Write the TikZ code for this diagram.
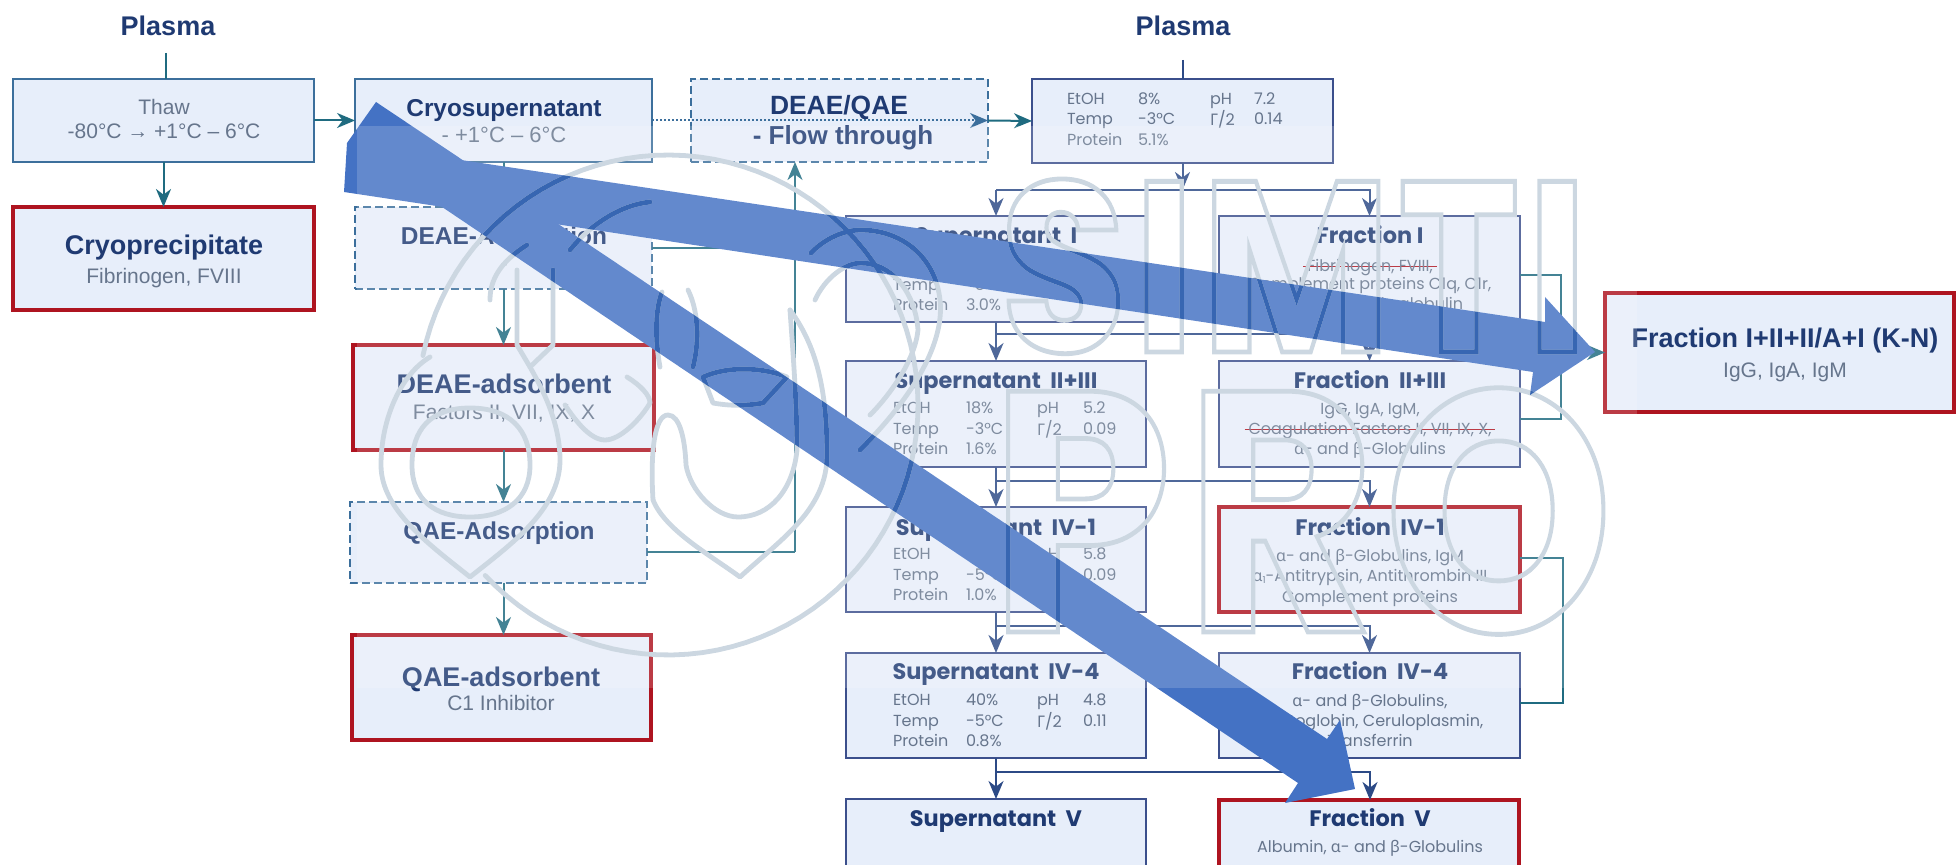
\documentclass[tikz,border=0pt]{standalone}
\usepackage{fontspec}
\usetikzlibrary{arrows.meta}
\setmainfont{Liberation Sans}
\newfontfamily\geo{Poppins}
\newfontfamily\grk{Noto Sans}
\definecolor{boxfill}{HTML}{E7EEFA}
\definecolor{leftedge}{HTML}{3C6F9C}
\definecolor{rightedge}{HTML}{3B4F8C}
\definecolor{redge}{HTML}{AE1420}
\definecolor{navy}{HTML}{1F3A72}
\definecolor{bodygray}{HTML}{66758C}
\definecolor{tealc}{HTML}{1F6B80}
\definecolor{navyc}{HTML}{2C4A86}
\definecolor{blockblue}{HTML}{4472C4}
\definecolor{wmlight}{HTML}{CCD7E1}
\definecolor{wmdark}{HTML}{3766B2}
\tikzset{
  pbox/.style={draw=leftedge,fill=boxfill,line width=1.3pt,inner sep=0pt,outer sep=0pt},
  qbox/.style={draw=rightedge,fill=boxfill,line width=1.2pt,inner sep=0pt,outer sep=0pt},
  rbox/.style={draw=redge,fill=boxfill,line width=1.9pt,inner sep=0pt,outer sep=0pt},
  dbox/.style={draw=leftedge,fill=boxfill,line width=1.1pt,dash pattern=on 4pt off 2pt,inner sep=0pt,outer sep=0pt},
  tlink/.style={draw=tealc,line width=1pt},
  nlink/.style={draw=navyc,line width=1pt},
  tarrow/.style={tlink,-{Stealth[length=9pt,width=7.5pt,inset=2.8pt]}},
  narrow/.style={nlink,-{Stealth[length=9pt,width=7.5pt,inset=2.8pt]}},
  txt/.style={inner sep=0pt,outer sep=0pt,align=center,execute at begin node=\strut},
  ahead/.style={txt,yshift=-2pt,text=navy,font=\bfseries\fontsize{13.5pt}{15pt}\selectfont},
  amid/.style={txt,yshift=-1.85pt,text=navy,font=\bfseries\fontsize{12.2pt}{14pt}\selectfont},
  abody/.style={txt,yshift=-1.25pt,text=bodygray,font=\fontsize{10.5pt}{13pt}\selectfont},
  gtitle/.style={txt,yshift=-0.85pt,text=navy,font=\geo\bfseries\fontsize{11.2pt}{13pt}\selectfont},
  gbody/.style={txt,yshift=-0.25pt,text=bodygray,font=\geo\fontsize{8pt}{10pt}\selectfont},
  gcell/.style={inner sep=0pt,outer sep=0pt,anchor=west,yshift=-0.25pt,execute at begin node=\strut,text=bodygray,font=\geo\fontsize{8pt}{10pt}\selectfont},
  wmstroke/.style={line width=2.4pt,line join=round,line cap=round}
}
% box from corner to corner, in reference pixels
\newcommand\bx[6]{\node[#1,minimum width={(#5-#3)*0.5pt},minimum height={(#6-#4)*0.5pt}] (#2) at ({(#3+#5)/2},{(#4+#6)/2}) {};}
\newcommand\tnode[5]{\node[#1] (#2) at (#3,#4) {#5};}
\newcommand\rstrike[1]{\setbox0\hbox{#1}\rlap{\kern-2pt\textcolor{redge}{\raisebox{0.28em}{\rule{\dimexpr\wd0+4pt\relax}{0.7pt}}}}\box0}
\newcommand\G[1]{{\grk #1}}
% data cells of a supernatant box: name, top y, then the three rows and two values
\newcommand\rows[7]{%
  \node[gcell] (#1a) at (893,#2+48) {EtOH};
  \node[gcell] (#1b) at (893,#2+69) {Temp};
  \node[gcell] (#1c) at (893,#2+89) {Protein};
  \node[gcell] (#1d) at (966,#2+48) {#3};
  \node[gcell] (#1e) at (966,#2+69) {#4};
  \node[gcell] (#1f) at (966,#2+89) {#5};
  \node[gcell] (#1g) at (1037,#2+48) {pH};
  \node[gcell] (#1h) at (1037,#2+69) {\G{Γ}/2};
  \node[gcell] (#1i) at (1083,#2+48) {#6};
  \node[gcell] (#1j) at (1083,#2+69) {#7};
}
% the watermark, in one colour
\newcommand\wmart[3]{%
  \begin{scope}[wmstroke,draw=#1]
  \draw[domain=-168.6:137,samples=90] plot ({668+250*cos(\x)},{405+250*sin(\x)});
  % left lobe
  \draw (430,357) .. controls (400,375) and (381,420) .. (381,465) .. controls (381,510) and (430,545) .. (470,577)
        .. controls (510,545) and (560,510) .. (560,460) .. controls (560,420) and (540,385) .. (530,367);
  \draw (412,465) .. controls (412,430) and (430,408) .. (470,408) .. controls (510,408) and (530,430) .. (530,465)
        .. controls (530,500) and (505,517) .. (470,517) .. controls (435,517) and (412,500) .. (412,465);
  \draw (517,270) -- (517,345) -- (530,367) -- (553,345) -- (553,270);
  \draw (490,300) .. controls (490,280) and (500,262) .. (527,245);
  % middle diamond
  \draw (627,377) .. controls (640,385) and (650,395) .. (650,403) .. controls (640,420) and (620,440) .. (605,440)
        .. controls (590,440) and (575,420) .. (565,405);
  % right lobe
  \draw (653,500) .. controls (650,450) and (655,415) .. (668,415) .. controls (680,415) and (685,440) .. (686,465)
        .. controls (690,490) and (715,517) .. (738,517) .. controls (770,517) and (793,490) .. (797,450)
        .. controls (797,400) and (792,340) .. (790,310);
  \draw (653,500) .. controls (665,530) and (710,555) .. (740,577) .. controls (780,540) and (827,510) .. (827,455)
        .. controls (827,400) and (820,350) .. (790,310);
  \draw (703,377) .. controls (730,365) and (765,368) .. (787,377) -- (763,403) .. controls (745,406) and (730,406) .. (713,403) -- cycle;
  % top arcs
  \draw (660,367) .. controls (655,340) and (655,310) .. (662,292);
  \draw (693,367) .. controls (700,340) and (698,310) .. (688,290);
  \draw (570,250) .. controls (590,225) and (620,205) .. (650,202);
  \draw (811,253) .. controls (825,238) and (845,230) .. (861,230) .. controls (900,230) and (935,255) .. (940,300)
        .. controls (945,345) and (910,400) .. (860,450);
  \draw (815,300) .. controls (825,278) and (845,263) .. (861,263) .. controls (890,263) and (915,290) .. (918,330)
        .. controls (915,360) and (890,395) .. (870,415);
  \end{scope}
  \node[inner sep=0pt,outer sep=0pt,anchor=base west] (wmA#3) at (1000,352)
    {\special{pdf:code 1 Tr 2.4 w #2 RG}\scalebox{0.85}[1]{\geo\bfseries\fontsize{121.5pt}{121.5pt}\selectfont S\kern4pt I\kern4pt M\kern4pt T\kern4pt I}\special{pdf:code 0 Tr}};
  \node[inner sep=0pt,outer sep=0pt,anchor=base west] (wmB#3) at (990,632)
    {\special{pdf:code 1 Tr 2.4 w #2 RG}\scalebox{0.85}[1]{\geo\bfseries\fontsize{171.5pt}{171.5pt}\selectfont P\kern8pt R\kern5pt O}\special{pdf:code 0 Tr}};
}
\begin{document}
\begin{tikzpicture}[x=0.5pt,y=-0.5pt]
\useasboundingbox (0,0) rectangle (1957,865);
\clip (0,0) rectangle (1957,865);
% ---------- left column boxes
\bx{pbox}{thaw}{13}{79}{314}{162}
\bx{pbox}{cryo}{355}{79}{652}{162}
\bx{rbox}{cprec}{13}{207}{314}{310}
\bx{dbox}{deaeads}{355}{207}{652}{289}
\bx{rbox}{deaeabs}{353}{345}{654}{450}
\bx{dbox}{qaeads}{350}{502}{647}{583}
\bx{rbox}{qaeabs}{352}{635}{651}{740}
\bx{dbox}{flow}{691}{79}{988}{162}
% ---------- right columns boxes
\bx{qbox}{top}{1032}{79}{1333}{163}
\bx{qbox}{supa}{846}{216}{1146}{322}
\bx{qbox}{supb}{846}{361}{1146}{467}
\bx{qbox}{supc}{846}{507}{1146}{612}
\bx{qbox}{supd}{846}{653}{1146}{758}
\bx{qbox}{supe}{846}{799}{1146}{880}
\bx{qbox}{fra}{1219}{216}{1520}{322}
\bx{qbox}{frb}{1219}{361}{1520}{467}
\bx{rbox}{frc}{1219}{507}{1520}{612}
\bx{qbox}{frd}{1219}{653}{1520}{758}
\bx{rbox}{fre}{1219}{800}{1519}{880}
\bx{rbox}{big}{1605}{293}{1954}{412}
% ---------- left texts
\tnode{amid,font=\bfseries\fontsize{13.5pt}{15pt}\selectfont}{plasmaL}{168}{26}{Plasma}
\tnode{amid,font=\bfseries\fontsize{13.5pt}{15pt}\selectfont}{plasmaR}{1183}{26}{Plasma}
\tnode{abody}{thawa}{164}{107}{Thaw}
\tnode{abody}{thawb}{164}{131}{-80°C → +1°C – 6°C}
\tnode{amid}{cryoa}{504}{107}{Cryosupernatant}
\tnode{abody,font=\fontsize{11pt}{13pt}\selectfont}{cryob}{504}{135}{- +1°C – 6°C}
\tnode{ahead}{cpreca}{164}{245}{Cryoprecipitate}
\tnode{abody}{cprecb}{164}{276}{Fibrinogen, FVIII}
\tnode{amid}{adsa}{504}{235}{DEAE-Adsorption}
\tnode{abody}{adsb}{504}{263}{-}
\tnode{ahead}{absa}{504}{384}{DEAE-adsorbent}
\tnode{abody}{absb}{504}{412}{Factors II, VII, IX, X}
\tnode{amid}{qada}{499}{530}{QAE-Adsorption}
\tnode{ahead}{qaba}{501}{676}{QAE-adsorbent}
\tnode{abody}{qabb}{501}{703}{C1 Inhibitor}
\tnode{ahead,font=\bfseries\fontsize{13.2pt}{15pt}\selectfont}{flowa}{839}{105}{DEAE/QAE}
\tnode{ahead,font=\bfseries\fontsize{13pt}{15pt}\selectfont}{flowb}{843}{135}{- Flow through}
% ---------- top box cells
\node[gcell] (ta) at (1067,100) {EtOH};
\node[gcell] (tb) at (1067,120) {Temp};
\node[gcell] (tc) at (1067,141) {Protein};
\node[gcell] (td) at (1138,100) {8\%};
\node[gcell] (te) at (1138,120) {-3°C};
\node[gcell] (tf) at (1138,141) {5.1\%};
\node[gcell] (tg) at (1210,100) {pH};
\node[gcell] (th) at (1210,120) {\G{Γ}/2};
\node[gcell] (ti) at (1254,100) {7.2};
\node[gcell] (tj) at (1254,120) {0.14};
% ---------- supernatants
\tnode{gtitle}{supat}{996}{237}{Supernatant\ \ I}
\node[gcell] (supab) at (893,286) {Temp};
\node[gcell] (supac) at (893,306) {Protein};
\node[gcell] (supae) at (966,286) {-5°C};
\node[gcell] (supaf) at (966,306) {3.0\%};
\tnode{gtitle}{supbt}{996}{382}{Supernatant\ \ II+III}
\rows{supb}{361}{18\%}{-3°C}{1.6\%}{5.2}{0.09}
\tnode{gtitle}{supct}{996}{529}{Supernatant\ \ IV-1}
\rows{supc}{507}{25\%}{-5°C}{1.0\%}{5.8}{0.09}
\tnode{gtitle}{supdt}{996}{673}{Supernatant\ \ IV-4}
\rows{supd}{653}{40\%}{-5°C}{0.8\%}{4.8}{0.11}
\tnode{gtitle}{supet}{996}{820}{Supernatant\ \ V}
% ---------- fractions
\tnode{gtitle}{frat}{1370}{237}{Fraction I}
\tnode{gbody}{fraa}{1370}{267}{\rstrike{Fibrinogen, FVIII,}}
\tnode{gbody}{frab}{1370}{285}{Complement proteins C1q, C1r,}
\tnode{gbody}{frac}{1370}{305}{Cold-insoluble globulin}
\tnode{gtitle}{frbt}{1370}{382}{Fraction\ \ II+III}
\tnode{gbody}{frba}{1370}{410}{IgG, IgA, IgM,}
\tnode{gbody}{frbb}{1370}{430}{\rstrike{Coagulation Factors II, VII, IX, X,}}
\tnode{gbody}{frbc}{1370}{450}{\G{α}- and \G{β}-Globulins}
\tnode{gtitle}{frct}{1370}{529}{Fraction\ \ IV-1}
\tnode{gbody}{frca}{1370}{557}{\G{α}- and \G{β}-Globulins, IgM}
\tnode{gbody}{frcb}{1370}{577}{\G{α}\raisebox{-0.2ex}{\scalebox{0.6}{1}}-Antitrypsin, Antithrombin III}
\tnode{gbody}{frcc}{1370}{598}{Complement proteins}
\tnode{gtitle}{frdt}{1370}{673}{Fraction\ \ IV-4}
\tnode{gbody}{frda}{1370}{702}{\G{α}- and \G{β}-Globulins,}
\tnode{gbody}{frdb}{1370}{722}{Haptoglobin, Ceruloplasmin,}
\tnode{gbody}{frdc}{1370}{742}{Transferrin}
\tnode{gtitle}{fret}{1370}{820}{Fraction\ \ V}
\tnode{gbody}{frea}{1370}{848}{Albumin, \G{α}- and \G{β}-Globulins}
\tnode{ahead}{biga}{1785}{338}{Fraction I+II+II/A+I (K-N)}
\tnode{abody}{bigb}{1785}{370}{IgG, IgA, IgM}
% ---------- named bends
\coordinate (pl) at (166,53);
\coordinate (pr) at (1183,60);
\coordinate (up) at (795,552);
\coordinate (s0) at (996,190);
\coordinate (s1) at (996,334);
\coordinate (s2) at (996,481);
\coordinate (s3) at (996,626);
\coordinate (s4) at (996,772);
\coordinate (c1) at (1561,275);
\coordinate (c2) at (1561,419);
\coordinate (c3) at (1563,558);
\coordinate (c4) at (1563,703);
% ---------- left connectors
\draw[tlink] (pl) -- (pl |- thaw.north);
\draw[tarrow] (thaw.east) -- (cryo.west);
\draw[tarrow] (thaw.south) -- (cprec.north);
\draw[tlink] (cryo.south) -- (cryo.south |- deaeads.north);
\draw[tarrow] (deaeads.south) -- (deaeads.south |- deaeabs.north);
\draw[tarrow] (deaeabs.south) -- (deaeabs.south |- qaeads.north);
\draw[tarrow] (qaeads.south -| deaeabs.south) -- (deaeabs.south |- qaeabs.north);
\draw[tlink] (deaeads.east) -- (up |- deaeads.east);
\draw[tlink] (qaeads.east |- up) -- (up);
\draw[tarrow] (up) -- (up |- flow.south);
\draw[draw=leftedge,line width=1pt,dash pattern=on 1pt off 1pt,-{Stealth[length=9pt,width=7.5pt,inset=2.8pt]}] (cryo.east) -- (flow.east);
\draw[tarrow] (flow.east) -- (top.west);
% ---------- right connectors
\draw[nlink] (pr) -- (pr |- top.north);
\draw[narrow] (top.south) -- (top.south |- s0);
\draw[narrow] (s0) -- (supa.north);
\draw[narrow] (s0) -| (fra.north);
\draw[narrow] (supa.south) -- (supb.north);
\draw[narrow] (s1) -| (frb.north);
\draw[narrow] (supb.south) -- (supc.north);
\draw[narrow] (s2) -| (frc.north);
\draw[narrow] (supc.south) -- (supd.north);
\draw[narrow] (s3) -| (frd.north);
\draw[narrow] (supd.south) -- (supe.north);
\draw[narrow] (s4) -| (fret.north |- fre.north);
\draw[tlink] (fra.east |- c1) -- (c1) -- (c2) -- (frb.east |- c2);
\draw[tarrow] (c1 |- big.west) -- (big.west);
\draw[tlink] (frc.east |- c3) -- (c3) -- (c4) -- (frd.east |- c4);
% ---------- block arrows
\fill[blockblue] (376,102) -- (1327,739) -- (1340,720) -- (1355,789) -- (1285,803) -- (1298,783) -- (347,143) -- cycle;
\fill[blockblue] (347,143) -- (1545,322) -- (1545,297) -- (1595,352) -- (1530,395) -- (1533,372) -- (344,192) -- cycle;
% ---------- pale veil of the watermark
\fill[white,fill opacity=0.17] (357,126) rectangle (1637,688);
\wmart{wmlight}{0.80 0.843 0.882}{a}
\begin{scope}
\clip (376,102) -- (1327,739) -- (1340,720) -- (1355,789) -- (1285,803) -- (1298,783) -- (347,143) -- cycle
      (347,143) -- (1545,322) -- (1545,297) -- (1595,352) -- (1530,395) -- (1533,372) -- (344,192) -- cycle;
\wmart{wmdark}{0.216 0.4 0.698}{b}
\end{scope}
\end{tikzpicture}
\end{document}
